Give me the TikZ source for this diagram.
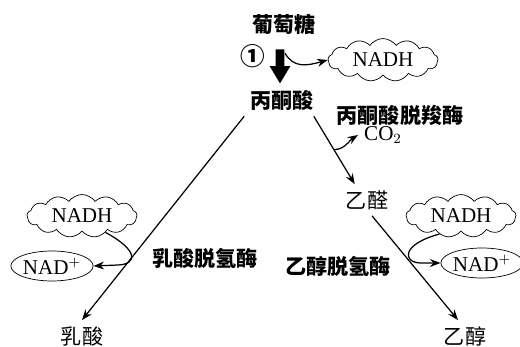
\documentclass[tikz,border=0pt]{standalone}
\usepackage{fontspec}
\setmainfont{Liberation Serif}
\newfontfamily\cjk{Noto Sans CJK SC}
\usepackage{tikz}
\usetikzlibrary{shapes.symbols,shapes.geometric,arrows.meta}
\tikzset{
    cloud-box/.style = {draw, cloud, cloud puffs=13, cloud puff arc=110, aspect=2.6, minimum width=2.2cm, minimum height=0.84cm, inner sep=0pt, font=\fontsize{12}{14}\selectfont},
    oval-box/.style = {draw, ellipse, minimum width=1.6cm, minimum height=0.6cm, inner sep=0pt, font=\fontsize{12}{14}\selectfont},
    name-text/.style = {font=\cjk\fontsize{12}{14}\selectfont},
    enzyme-text/.style = {font=\cjk\bfseries\fontsize{12}{14}\selectfont},
    thin-arrow/.style = {-{Stealth[length=6pt,width=4.5pt]}, line width=0.7pt},
}

\begin{document}
\begin{tikzpicture}[x=0.02cm, y=-0.02cm]
\useasboundingbox (0,0) rectangle (520,347);
% substances
\node[enzyme-text] (glc) at (284,24) {葡萄糖};
\node[enzyme-text] (pyr) at (282,100) {丙酮酸};
\node[name-text] (ace) at (367,200) {乙醛};
\node[name-text] (lac) at (82,336) {乳酸};
\node[name-text] (eth) at (465,336) {乙醇};
\node[font=\cjk\bfseries\fontsize{14}{16}\selectfont] (step1) at (253,56) {①};
% enzymes
\node[enzyme-text] (pdc) at (400,115) {丙酮酸脱羧酶};
\node[enzyme-text] (ldh) at (205,258) {乳酸脱氢酶};
\node[enzyme-text] (adh) at (338,266) {乙醇脱氢酶};
\node[font=\fontsize{12}{14}\selectfont] (co2) at (383,135) {CO$_2$};
% coenzymes
\node[cloud-box] (nadh-top) at (383,60) {NADH};
\node[cloud-box] (nadh-left) at (82,216) {NADH};
\node[oval-box] (nad-left) at (52,266) {NAD$^+$};
\node[cloud-box] (nadh-right) at (461,216) {NADH};
\node[oval-box] (nad-right) at (482,263) {NAD$^+$};

% glycolysis
\draw[line width=5pt, -{Triangle[length=10pt, width=11pt]}, shorten <=0.18cm]
    ([xshift=-0.08cm]glc.south) -- coordinate[pos=0.3] (g1) ([xshift=-0.04cm]pyr.north);
\draw[thin-arrow] ([xshift=0.1cm]g1) .. controls (294,68) and (306,66) .. (nadh-top.west);

% lactic acid branch
\draw[thin-arrow] (pyr.south west) -- coordinate[pos=0.68] (p-left) (lac.north);
\draw[thin-arrow] (nadh-left.-35) .. controls (138,250) and (138,264) .. (118,265) -- (nad-left.east);

% alcohol branch
\draw[thin-arrow] ([xshift=-0.12cm]pyr.south east) -- coordinate[pos=0.49] (p-co2) ([xshift=0.3cm]ace.north west);
\draw[thin-arrow] (p-co2) .. controls (344,150) and (350,140) .. (co2.west);
\draw[thin-arrow] ([xshift=0.1cm]ace.south) -- coordinate[pos=0.38] (p-right) ([xshift=-0.14cm]eth.north);
\draw[thin-arrow] (nadh-right.-140) .. controls (402,244) and (402,262) .. (420,263) -- (nad-right.west);
\end{tikzpicture}
\end{document}
